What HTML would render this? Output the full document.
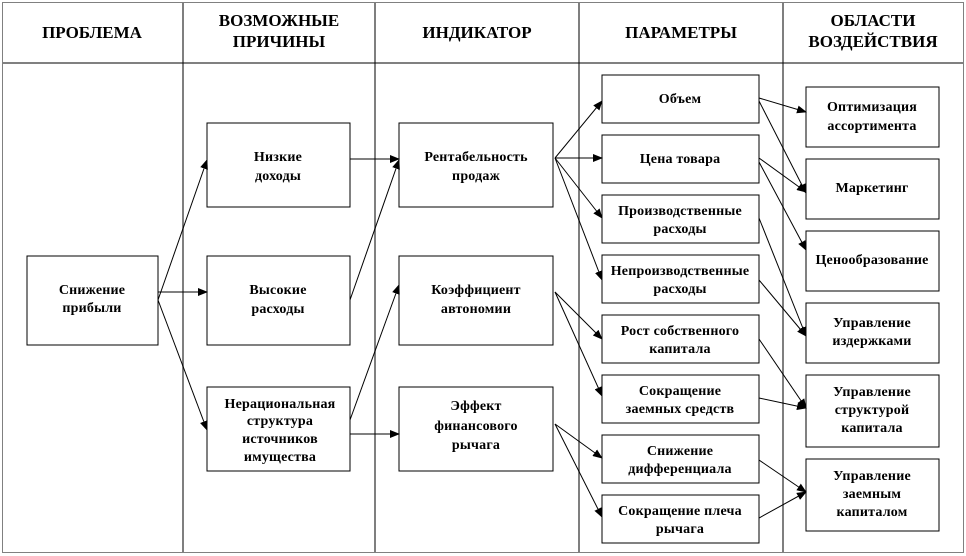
<!DOCTYPE html>
<html><head><meta charset="utf-8"><style>
html,body{margin:0;padding:0;background:#fff;}
svg{display:block;}
text{font-family:"Liberation Serif",serif;font-weight:bold;fill:#000;}
.h{font-size:17px;}
.t{font-size:14px;letter-spacing:0.2px;}
</style></head><body>
<svg width="966" height="556" viewBox="0 0 966 556" xmlns="http://www.w3.org/2000/svg">
<defs><marker id="a" markerWidth="10" markerHeight="8" refX="9" refY="4" orient="auto" markerUnits="userSpaceOnUse"><path d="M0,0 L10,4 L0,8 z" fill="#000"/></marker></defs>
<rect x="2.5" y="2.5" width="961" height="550" fill="none" stroke="#000" stroke-dasharray="1,1"/>
<g stroke="#555" stroke-width="1.5">
<line x1="183" y1="3" x2="183" y2="552"/><line x1="375" y1="3" x2="375" y2="552"/>
<line x1="579" y1="3" x2="579" y2="552"/><line x1="783" y1="3" x2="783" y2="552"/>
</g>
<line x1="3" y1="63" x2="963" y2="63" stroke="#000"/>
<g class="h" text-anchor="middle">
<text x="92" y="38">ПРОБЛЕМА</text>
<text x="279" y="26">ВОЗМОЖНЫЕ</text><text x="279" y="47">ПРИЧИНЫ</text>
<text x="477" y="38">ИНДИКАТОР</text>
<text x="681" y="38">ПАРАМЕТРЫ</text>
<text x="873" y="26">ОБЛАСТИ</text><text x="873" y="47">ВОЗДЕЙСТВИЯ</text>
</g>
<g fill="#fff" stroke="#000">
<rect x="27" y="256" width="131" height="89"/>
<rect x="207" y="123" width="143" height="84"/><rect x="207" y="256" width="143" height="89"/><rect x="207" y="387" width="143" height="84"/>
<rect x="399" y="123" width="154" height="84"/><rect x="399" y="256" width="154" height="89"/><rect x="399" y="387" width="154" height="84"/>
<rect x="602" y="75" width="157" height="48"/><rect x="602" y="135" width="157" height="48"/><rect x="602" y="195" width="157" height="48"/><rect x="602" y="255" width="157" height="48"/>
<rect x="602" y="315" width="157" height="48"/><rect x="602" y="375" width="157" height="48"/><rect x="602" y="435" width="157" height="48"/><rect x="602" y="495" width="157" height="48"/>
<rect x="806" y="87" width="133" height="60"/><rect x="806" y="159" width="133" height="60"/><rect x="806" y="231" width="133" height="60"/><rect x="806" y="303" width="133" height="60"/>
<rect x="806" y="375" width="133" height="72"/><rect x="806" y="459" width="133" height="72"/>
</g>
<g class="t" text-anchor="middle">
<text x="92" y="294">Снижение</text><text x="92" y="312">прибыли</text>
<text x="278" y="161">Низкие</text><text x="278" y="180">доходы</text>
<text x="278" y="294">Высокие</text><text x="278" y="313">расходы</text>
<text x="280" y="408">Нерациональная</text><text x="280" y="425">структура</text><text x="280" y="443">источников</text><text x="280" y="461">имущества</text>
<text x="476" y="161">Рентабельность</text><text x="476" y="180">продаж</text>
<text x="476" y="294">Коэффициент</text><text x="476" y="313">автономии</text>
<text x="476" y="410">Эффект</text><text x="476" y="430">финансового</text><text x="476" y="449">рычага</text>
<text x="680" y="103">Объем</text>
<text x="680" y="163">Цена товара</text>
<text x="680" y="215">Производственные</text><text x="680" y="233">расходы</text>
<text x="680" y="275">Непроизводственные</text><text x="680" y="293">расходы</text>
<text x="680" y="335">Рост собственного</text><text x="680" y="353">капитала</text>
<text x="680" y="395">Сокращение</text><text x="680" y="413">заемных средств</text>
<text x="680" y="455">Снижение</text><text x="680" y="473">дифференциала</text>
<text x="680" y="515">Сокращение плеча</text><text x="680" y="533">рычага</text>
<text x="872" y="111">Оптимизация</text><text x="872" y="130">ассортимента</text>
<text x="872" y="192">Маркетинг</text>
<text x="872" y="264">Ценообразование</text>
<text x="872" y="327">Управление</text><text x="872" y="345">издержками</text>
<text x="872" y="396">Управление</text><text x="872" y="414">структурой</text><text x="872" y="432">капитала</text>
<text x="872" y="480">Управление</text><text x="872" y="498">заемным</text><text x="872" y="516">капиталом</text>
</g>
<g stroke="#000" stroke-width="1" marker-end="url(#a)">
<line x1="158" y1="300" x2="207" y2="160"/><line x1="158" y1="292" x2="207" y2="292"/><line x1="158" y1="300" x2="207" y2="430"/>
<line x1="350" y1="159" x2="399" y2="159"/><line x1="350" y1="300" x2="399" y2="160"/>
<line x1="350" y1="420" x2="399" y2="285"/><line x1="350" y1="434" x2="399" y2="434"/>
<line x1="555" y1="158" x2="602" y2="101"/><line x1="555" y1="158" x2="602" y2="158"/><line x1="555" y1="158" x2="602" y2="218"/><line x1="555" y1="158" x2="602" y2="280"/>
<line x1="555" y1="292" x2="602" y2="339"/><line x1="555" y1="292" x2="602" y2="396"/>
<line x1="555" y1="424" x2="602" y2="458"/><line x1="555" y1="424" x2="602" y2="517"/>
<line x1="759" y1="98" x2="806" y2="112"/><line x1="759" y1="101" x2="806" y2="193"/>
<line x1="759" y1="158" x2="806" y2="192"/><line x1="759" y1="162" x2="806" y2="250"/>
<line x1="759" y1="218" x2="806" y2="336"/><line x1="759" y1="280" x2="806" y2="336"/>
<line x1="759" y1="339" x2="806" y2="408"/><line x1="759" y1="398" x2="806" y2="408"/>
<line x1="759" y1="460" x2="806" y2="492"/><line x1="759" y1="518" x2="806" y2="492"/>
</g>
</svg>
</body></html>
